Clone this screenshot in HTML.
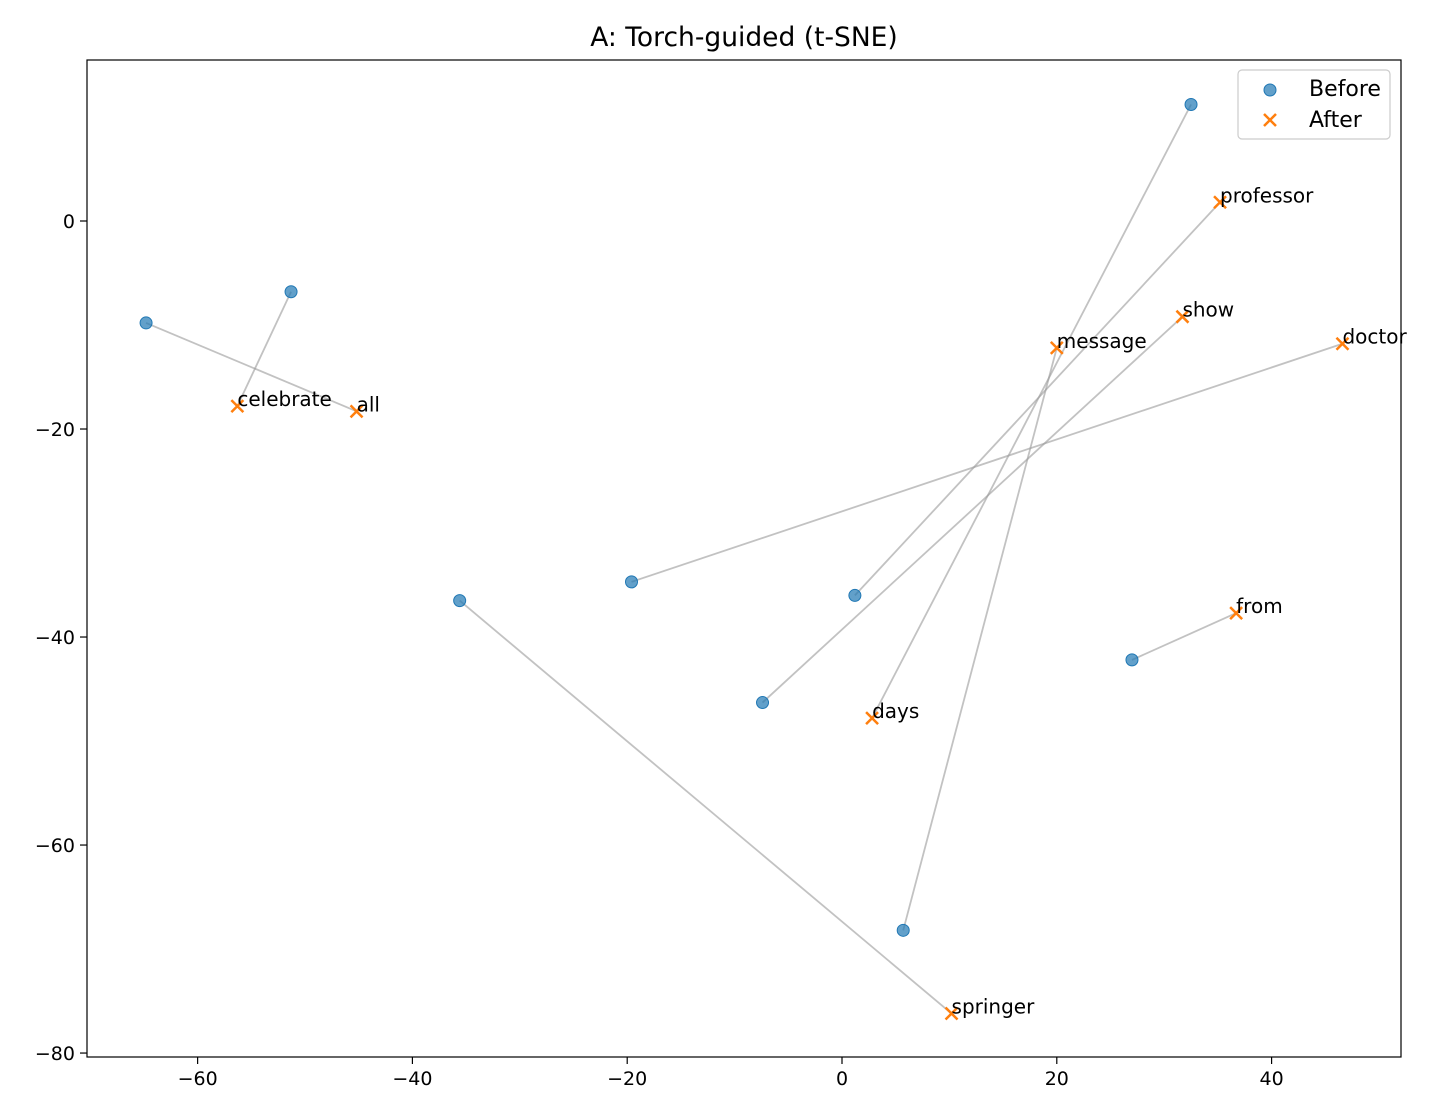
<!DOCTYPE html>
<html><head><meta charset="utf-8"><style>
body{margin:0;background:#fff;}
svg{display:block;font-family:"DejaVu Sans","Liberation Sans",sans-serif;}
</style></head><body>
<svg id="chart" width="1440" height="1120" viewBox="0 0 1440 1120">
<rect width="1440" height="1120" fill="#fff"/>
<text x="744" y="46" text-anchor="middle" font-size="26.5">A: Torch-guided (t-SNE)</text>
<g id="grid"></g>
<g id="lines"></g>
<g id="marks"></g>
<rect x="87" y="60" width="1314" height="997" fill="none" stroke="#000" stroke-width="1.2"/>
<g>
<rect x="1238" y="70" width="152" height="69" rx="4" fill="#fff" stroke="#ccc" stroke-width="1.2"/>
<circle cx="1270" cy="90" r="6" fill="#1f77b4" fill-opacity="0.7" stroke="#1f77b4"/>
<text x="1309" y="96" font-size="22">Before</text>
<path d="M1264,114 L1276,126 M1276,114 L1264,126" stroke="#ff7f0e" stroke-width="2.5"/>
<text x="1309" y="127" font-size="22">After</text>
</g>
</svg>
<script>
const words = ["all","celebrate","springer","doctor","professor","message","days","show","from"];
const beforeX = [-64.8,-51.3,-35.6,-19.6,1.2,5.7,32.5,-7.4,27.0];
const beforeY = [-9.8,-6.8,-36.5,-34.7,-36.0,-68.2,11.2,-46.3,-42.2];
const afterX = [-45.2,-56.3,10.2,46.6,35.2,20.0,2.8,31.7,36.7];
const afterY = [-18.3,-17.8,-76.2,-11.8,1.8,-12.2,-47.8,-9.2,-37.7];
const xTicks = [-60,-40,-20,0,20,40];
const yTicks = [0,-20,-40,-60,-80];
const X0=87,X1=1401,Y0=60,Y1=1057,xMin=-70.3,xMax=52.05,yMin=-80.38,yMax=15.48;
function sx(v){return X0+(v-xMin)/(xMax-xMin)*(X1-X0);}
function sy(v){return Y1-(v-yMin)/(yMax-yMin)*(Y1-Y0);}
const NS="http://www.w3.org/2000/svg";
function mk(t,a,p){const e=document.createElementNS(NS,t);for(const k in a)e.setAttribute(k,a[k]);p.appendChild(e);return e;}
const g=document.getElementById('grid'),L=document.getElementById('lines'),M=document.getElementById('marks');
xTicks.forEach(v=>{const x=sx(v);
 const t=mk('line',{x1:x,x2:x,y1:Y1,y2:Y1+7,stroke:'#000','stroke-width':1.2},g);
 
 
 const l=mk('text',{x:x,y:Y1+28,'text-anchor':'middle','font-size':19},g);l.textContent=v<0?'\u2212'+Math.abs(v):v;
 
 });
yTicks.forEach(v=>{const y=sy(v);
 const t=mk('line',{x1:X0-7,x2:X0,y1:y,y2:y,stroke:'#000','stroke-width':1.2},g);
 
 
 const l=mk('text',{x:X0-12,y:y+7,'text-anchor':'end','font-size':19},g);l.textContent=v<0?'\u2212'+Math.abs(v):v;
 
 });
words.forEach((w,i)=>{
 const ln=mk('line',{x1:sx(beforeX[i]),y1:sy(beforeY[i]),x2:sx(afterX[i]),y2:sy(afterY[i]),stroke:'#999','stroke-opacity':0.6,'stroke-width':1.8},L);
 
 
});
words.forEach((w,i)=>{
 const c=mk('circle',{cx:sx(beforeX[i]),cy:sy(beforeY[i]),r:6,fill:'#1f77b4','fill-opacity':0.7,stroke:'#1f77b4','stroke-width':1},M);
 
 
});
words.forEach((w,i)=>{
 const x=sx(afterX[i]),y=sy(afterY[i]);
 const p=mk('path',{d:`M${x-6},${y-6}L${x+6},${y+6}M${x+6},${y-6}L${x-6},${y+6}`,stroke:'#ff7f0e','stroke-width':2.5},M);
 
 
 const t=mk('text',{x:x,y:y,'font-size':20},M);t.textContent=w;
 
 
});
</script>
</body></html>
